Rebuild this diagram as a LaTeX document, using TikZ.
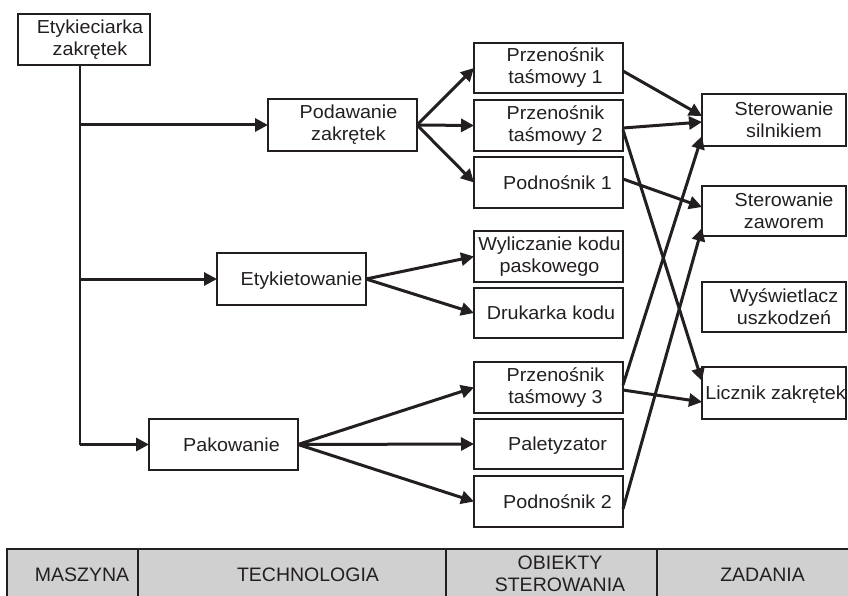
\documentclass[tikz,border=0pt]{standalone}
\usepackage{fontspec}
\setmainfont{Liberation Sans}
\newfontfamily\bxfont{Liberation Sans}[FakeStretch=1.05]
\usetikzlibrary{arrows.meta}
\definecolor{ink}{RGB}{35,31,32}
\definecolor{cellgray}{RGB}{208,208,208}
% name, center, width, height, text xshift, text style, text
\newcommand\mkbox[7]{%
  \node[box,minimum width=#3,minimum height=#4] (#1) at #2 {};
  \node[#6] (#1-t) at ([xshift=#5]#1.center) {#7};}
\begin{document}
\begin{tikzpicture}[x=1pt,y=-1pt,
  box/.style={draw=ink,line width=1.8pt,inner sep=0pt,outer sep=0pt},
  txt/.style={align=center,inner sep=0pt,font=\bxfont\fontsize{18.8}{22}\selectfont,text=ink},
  txt1/.style={txt,text height=13.4pt,text depth=0pt},
  arr/.style={draw=ink,line width=3pt,-{Triangle[length=13pt,width=13pt]}},
  trunk/.style={draw=ink,line width=2pt},
  cell/.style={draw=ink,fill=cellgray,line width=1.5pt,inner sep=0pt,outer sep=0pt,minimum height=51pt},
  ctxt/.style={align=center,inner sep=0pt,font=\fontsize{19.5}{22}\selectfont,text=ink}]
\useasboundingbox (0,0) rectangle (848,596);

% machine
\mkbox{mach}{(84,39.5)}{132pt}{51pt}{6pt}{txt}{Etykieciarka\\zakrętek}
% technology
\mkbox{pod}{(342.5,125)}{149pt}{52pt}{6pt}{txt}{Podawanie\\zakrętek}
\mkbox{ety}{(291.5,279)}{149pt}{52pt}{10pt}{txt1}{Etykietowanie}
\mkbox{pak}{(223.5,444.5)}{149pt}{51pt}{8pt}{txt1}{Pakowanie}
% control objects
\mkbox{p1}{(548.5,68)}{149pt}{50pt}{7pt}{txt}{Przenośnik\\taśmowy 1}
\mkbox{p2}{(548.5,125.5)}{149pt}{51pt}{7pt}{txt}{Przenośnik\\taśmowy 2}
\mkbox{pn1}{(548.5,182.5)}{149pt}{51pt}{9pt}{txt1}{Podnośnik 1}
\mkbox{wyl}{(548.5,256.5)}{149pt}{51pt}{1pt}{txt}{Wyliczanie kodu\\paskowego}
\mkbox{dru}{(548.5,313)}{149pt}{50pt}{2.5pt}{txt1}{Drukarka kodu}
\mkbox{p3}{(548.5,387.5)}{149pt}{51pt}{7pt}{txt}{Przenośnik\\taśmowy 3}
\mkbox{pal}{(548.5,444)}{149pt}{50pt}{9pt}{txt1}{Paletyzator}
\mkbox{pn2}{(548.5,501.5)}{149pt}{51pt}{9pt}{txt1}{Podnośnik 2}
% tasks
\mkbox{ss}{(774,120)}{144pt}{52pt}{10pt}{txt}{Sterowanie\\silnikiem}
\mkbox{sz}{(774,211)}{144pt}{50pt}{10pt}{txt}{Sterowanie\\zaworem}
\mkbox{wu}{(774,307)}{144pt}{50pt}{10pt}{txt}{Wyświetlacz\\uszkodzeń}
\mkbox{lz}{(774,393)}{144pt}{52pt}{1.5pt}{txt1}{Licznik zakrętek}

% trunk and branches
\coordinate (tr0) at (80,65);
\coordinate (tr1) at (80,444.5);
\draw[trunk] (tr0) -- (tr1);
\draw[arr] (tr0 |- pod.west) -- (pod.west);
\draw[arr] (tr0 |- ety.west) -- (ety.west);
\draw[arr] (tr1) -- (pak.west);

% technology -> objects
\draw[arr] (pod.east) -- (p1.west);
\draw[arr] (pod.east) -- (p2.west);
\draw[arr] (pod.east) -- (pn1.west);
\draw[arr] (ety.east) -- (wyl.west);
\draw[arr] (ety.east) -- (dru.west);
\draw[arr] (pak.east) -- (p3.west);
\draw[arr] (pak.east) -- (pal.west);
\draw[arr] (pak.east) -- (pn2.west);

% objects -> tasks
\draw[arr] ([yshift=-3pt]p1.east) -- ([yshift=4pt]ss.west);
\draw[arr] ([yshift=-2.5pt]p2.east) -- ([yshift=-2pt]ss.west);
\draw[arr] ([yshift=-4.5pt]p2.east) -- ([yshift=12pt]lz.west);
\draw[arr] ([yshift=3.5pt]pn1.east) -- ([yshift=4pt]sz.west);
\draw[arr] ([yshift=2.5pt]p3.east) -- ([yshift=-16pt]ss.west);
\draw[arr] ([yshift=-2.5pt]p3.east) -- ([yshift=-9pt]lz.west);
\draw[arr] ([yshift=-7.5pt]pn2.east) -- ([yshift=-17pt]sz.west);

% legend table
\node[cell,minimum width=131pt] (c1) at (72.5,574.5) {};
\node[cell,minimum width=308pt] (c2) at (292,574.5) {};
\node[cell,minimum width=211pt] (c3) at (551.5,574.5) {};
\node[cell,minimum width=197pt] (c4) at (755.5,574.5) {};
\node[ctxt,text height=14pt,text depth=0pt] (c1-t) at ([xshift=9.5pt]c1.center) {MASZYNA};
\node[ctxt,text height=14pt,text depth=0pt] (c2-t) at ([xshift=16pt]c2.center) {TECHNOLOGIA};
\node[ctxt] (c3-t) at (560,573.5) {OBIEKTY\\STEROWANIA};
\node[ctxt,text height=14pt,text depth=0pt] (c4-t) at (762.5,574.5) {ZADANIA};
\end{tikzpicture}
\end{document}
